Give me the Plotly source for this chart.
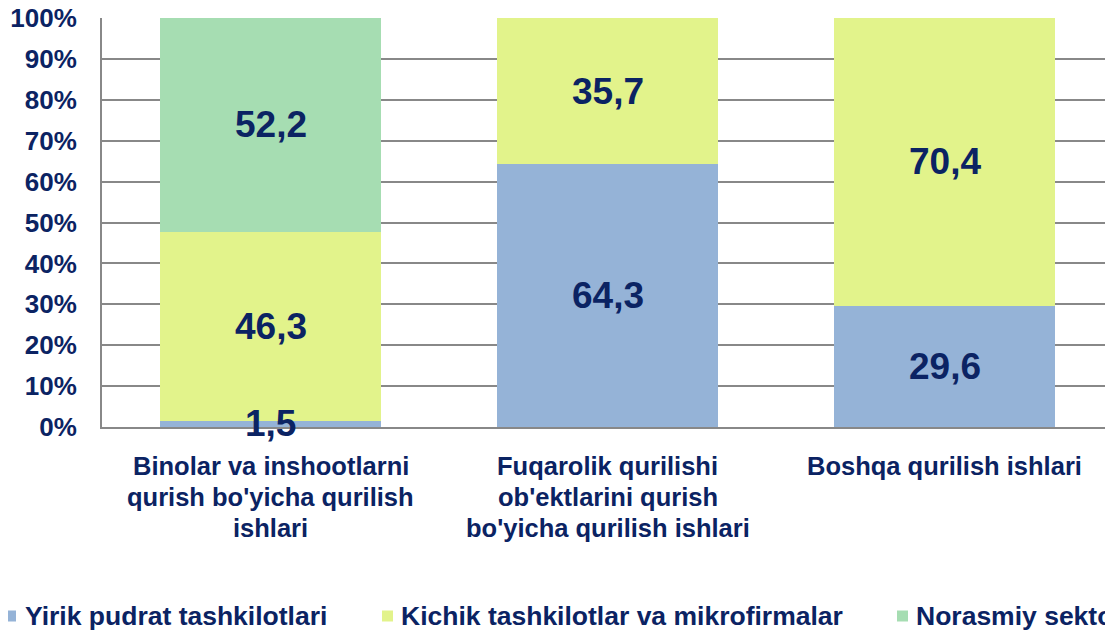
import plotly.graph_objects as go

categories = [
    "Binolar va inshootlarni<br>qurish bo'yicha qurilish<br>ishlari",
    "Fuqarolik qurilishi<br>ob'ektlarini qurish<br>bo'yicha qurilish ishlari",
    "Boshqa qurilish ishlari",
]
series_names = ["Yirik pudrat tashkilotlari", "Kichik tashkilotlar va mikrofirmalar", "Norasmiy sektor"]
yirik = [1.5, 64.3, 29.6]
kichik = [46.3, 35.7, 70.4]
norasmiy = [52.2, 0.0, 0.0]
colors = ["#95B3D7", "#E2F38B", "#A6DDB2"]
ytick_vals = [0, 10, 20, 30, 40, 50, 60, 70, 80, 90, 100]
ytick_text = [f"{v}%" for v in ytick_vals]

NAVY = "#0B2363"
FONT = "Liberation Sans, Arial, sans-serif"
# the page body adds an 8px offset; figure is sized so that it fills the window
OFF = 8
W, H = 1113 - OFF, 631 - OFF
L, R, T = 102 - OFF, 0, 18 - OFF
PLOT_BOTTOM = 427 - OFF
B = H - PLOT_BOTTOM

xs = [0, 1, 2]
fig = go.Figure()
all_series = [yirik, kichik, norasmiy]
for name, vals, col in zip(series_names, all_series, colors):
    fig.add_trace(go.Bar(
        x=xs, y=vals, name=name, marker=dict(color=col, line=dict(width=0)),
        width=0.654, hoverinfo="skip", showlegend=False,
    ))

# data labels at segment centres
cum = [0.0, 0.0, 0.0]
for vals in all_series:
    for i, v in enumerate(vals):
        if v > 0:
            fig.add_annotation(
                x=xs[i], y=cum[i] + v / 2, text=f"{v:.1f}".replace(".", ","),
                showarrow=False, xref="x", yref="y",
                font=dict(family=FONT, size=37, color=NAVY, weight="bold"),
            )
        cum[i] += v

# category labels (tight line spacing like the original)
for i, lab in enumerate(categories):
    for k, line in enumerate(lab.split("<br>")):
        fig.add_annotation(
            x=xs[i], y=0, xref="x", yref="paper", text=line, showarrow=False,
            yanchor="middle", xanchor="center", yshift=-(39 + 31 * k),
            font=dict(family=FONT, size=25.5, color=NAVY, weight="bold"),
        )

# legend (drawn below the plot, clipped at the right edge as in the original)
legend_marker_px = [5, 382, 897]
legend_text_px = [23, 399, 914]
legend_y_px = 616
dy = -(legend_y_px - 427)
for name, col, mx, tx in zip(series_names, colors, legend_marker_px, legend_text_px):
    fig.add_shape(
        type="rect", xref="paper", yref="paper", xsizemode="pixel", ysizemode="pixel",
        xanchor=0, yanchor=0, x0=mx - 102, x1=mx - 102 + 11,
        y0=dy - 5.5, y1=dy + 5.5,
        fillcolor=col, line=dict(width=0),
    )
    fig.add_annotation(
        x=0, y=0, xref="paper", yref="paper", text=name, showarrow=False,
        xanchor="left", yanchor="middle", xshift=tx - 102, yshift=dy,
        font=dict(family=FONT, size=26.5, color=NAVY, weight="bold"),
    )

fig.update_layout(
    barmode="stack",
    width=W, height=H,
    margin=dict(l=L, r=R, t=T, b=B),
    plot_bgcolor="white", paper_bgcolor="white",
    font=dict(family=FONT, color=NAVY, weight="bold"),
    showlegend=False,
    xaxis=dict(
        tickmode="array", tickvals=xs, showticklabels=False,
        range=[-0.5, 2.5], showgrid=False, showline=True,
        linecolor="#888888", linewidth=2, ticks="", automargin=False,
    ),
    yaxis=dict(
        range=[0, 100], tickvals=ytick_vals, ticktext=ytick_text,
        showgrid=True, gridcolor="#888888", gridwidth=2,
        showline=True, linecolor="#888888", linewidth=2, ticks="",
        tickfont=dict(family=FONT, size=26, color=NAVY, weight="bold"),
        ticklabelstandoff=18, zeroline=False, automargin=False,
        ticklabeloverflow="allow",
    ),
)

fig.write_html("out.html")
